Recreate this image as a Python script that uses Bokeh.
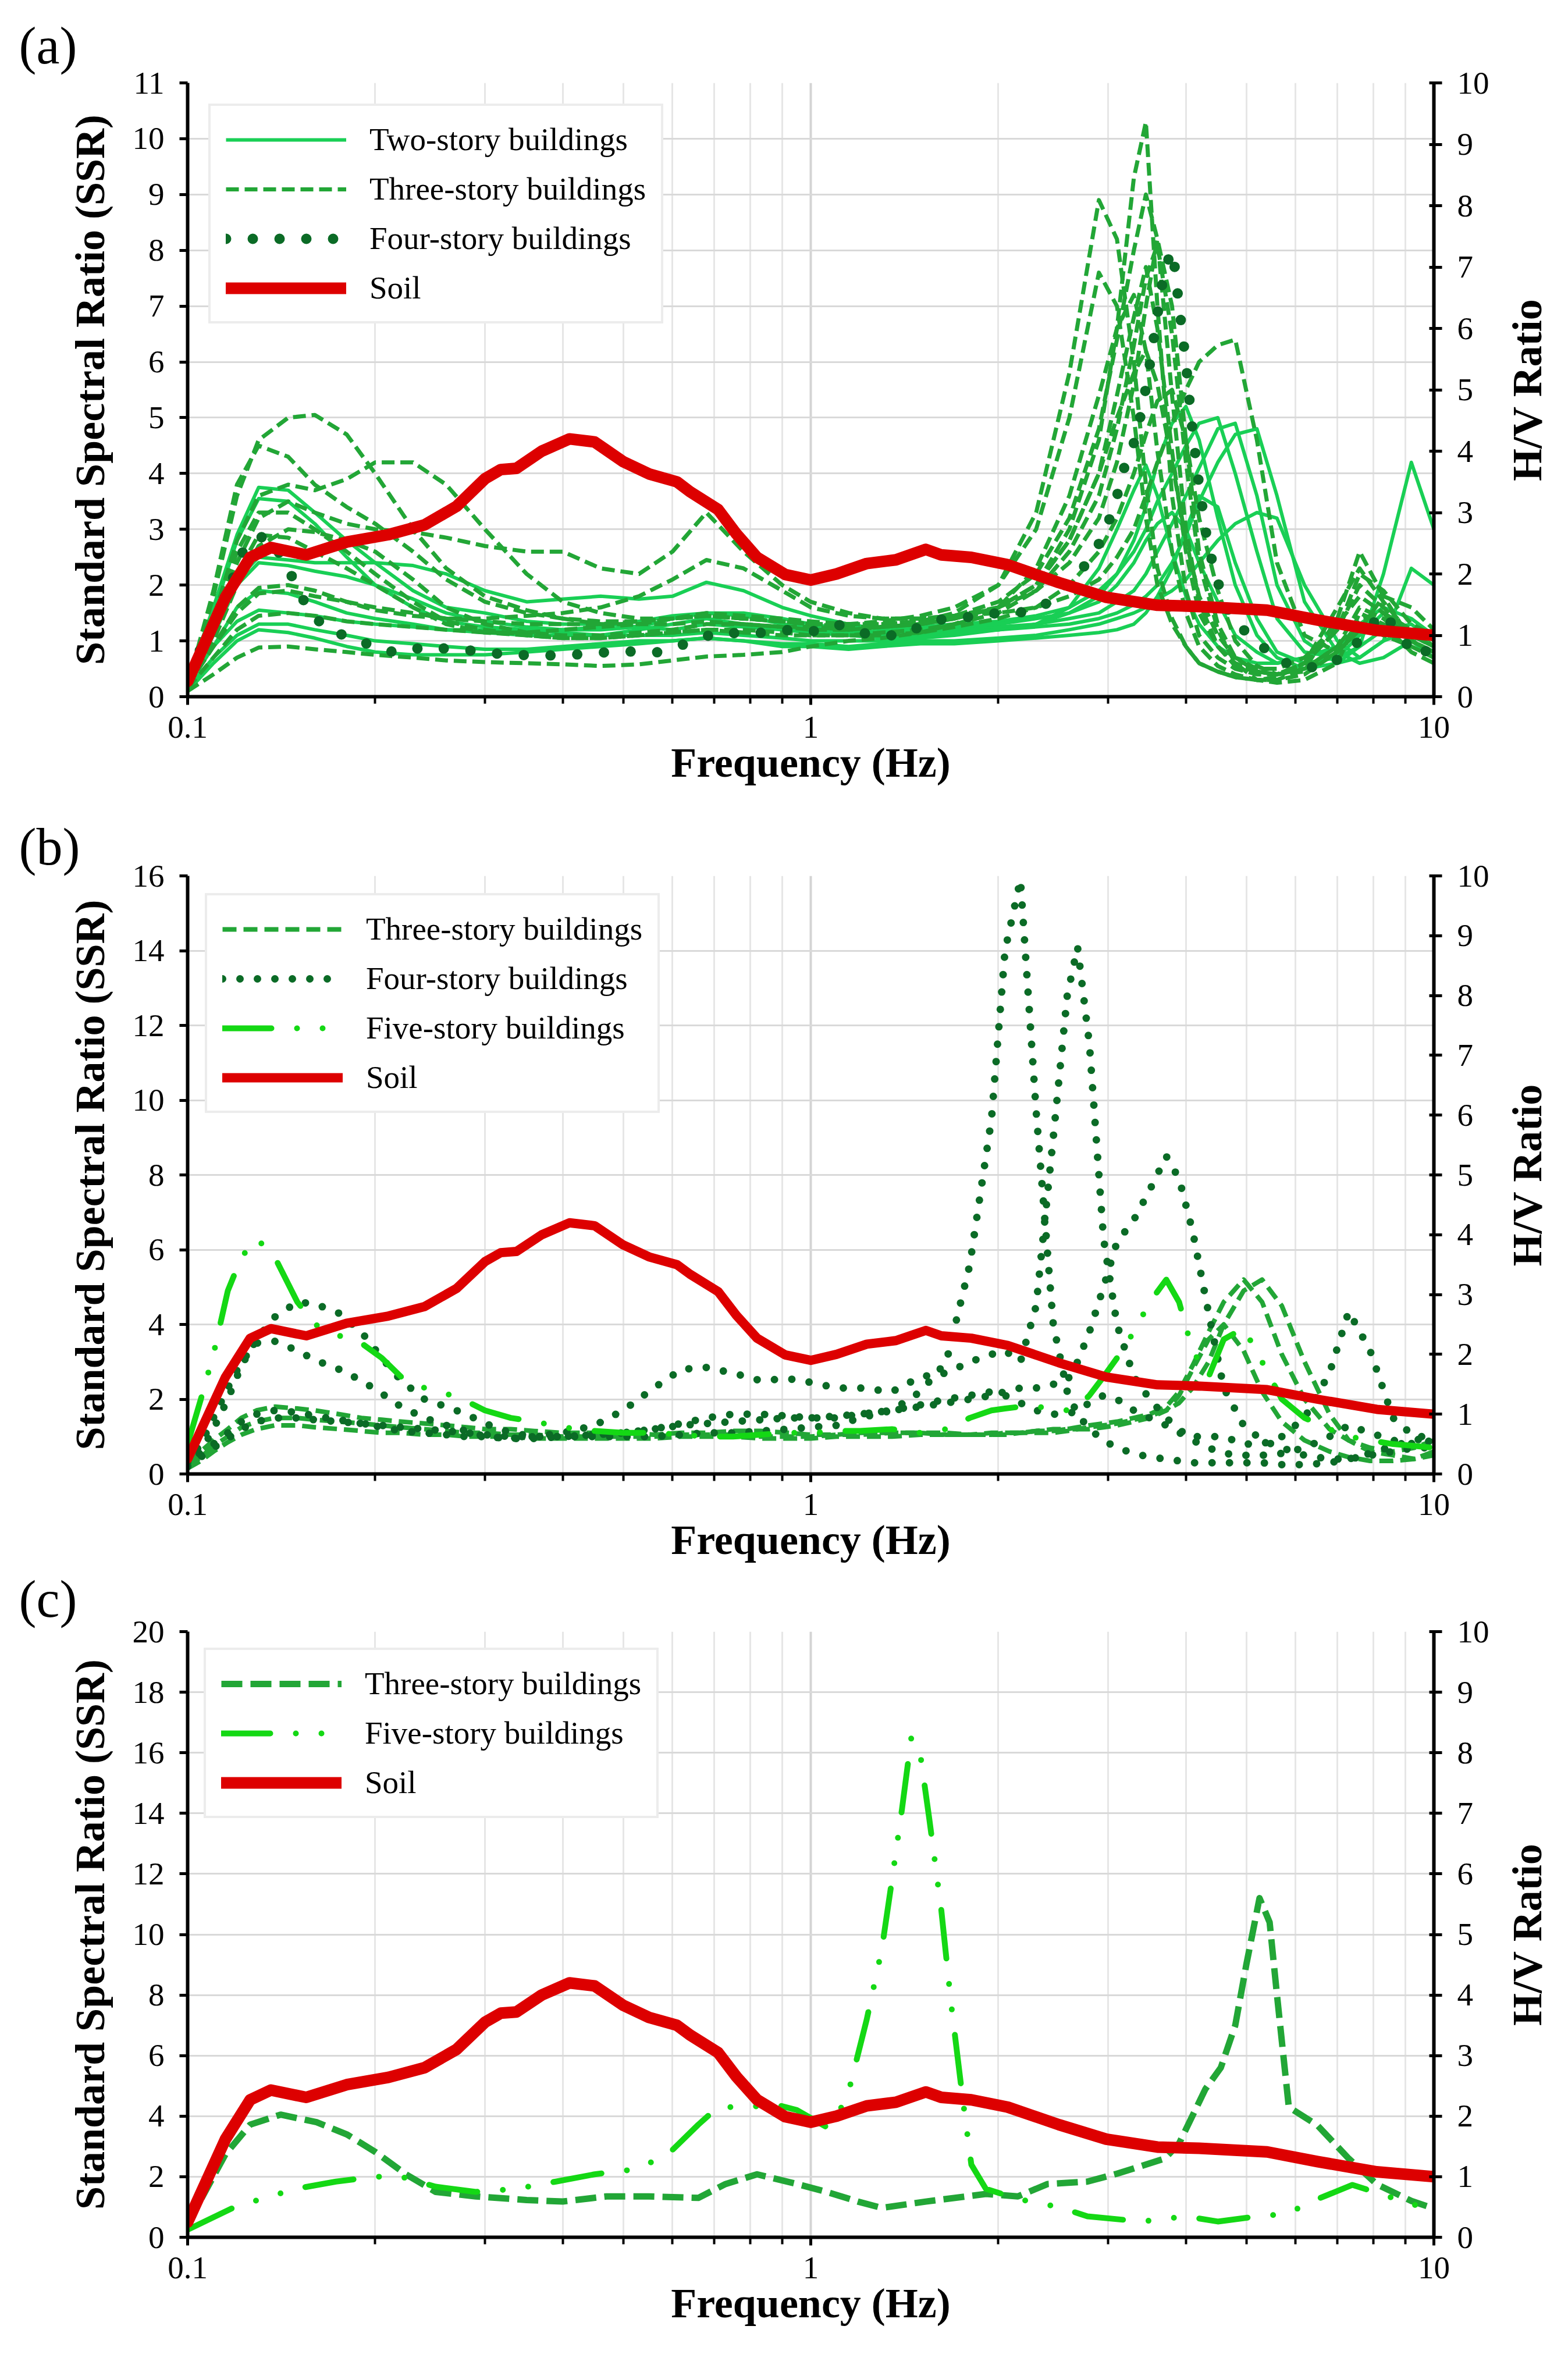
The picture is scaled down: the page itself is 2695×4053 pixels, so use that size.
import bokeh.layouts
import bokeh.models
import bokeh.plotting
from bokeh.embed import file_html
from bokeh.resources import INLINE

FONT = "Liberation Serif"

X_TICKS = [0.1, 1, 10]
X_MINOR = [0.2, 0.3, 0.4, 0.5, 0.6, 0.7, 0.8, 0.9, 2, 3, 4, 5, 6, 7, 8, 9]

# soil H/V ratio (right axis), same curve in the three panels
SOIL_FREQ = [0.10, 0.115, 0.126, 0.136, 0.155, 0.18, 0.21, 0.24, 0.27, 0.30,
             0.318, 0.337, 0.37, 0.41, 0.45, 0.50, 0.55, 0.61, 0.64, 0.71,
             0.76, 0.82, 0.91, 1.0, 1.1, 1.23, 1.37, 1.53, 1.62, 1.81,
             2.07, 2.5, 2.98, 3.6, 4.2, 5.4, 6.5, 8.1, 10.0]
SOIL_HV = [0.25, 1.62, 2.27, 2.43, 2.31, 2.52, 2.64, 2.8, 3.1, 3.55,
           3.7, 3.72, 4.0, 4.2, 4.15, 3.83, 3.63, 3.5, 3.34, 3.05,
           2.65, 2.27, 1.99, 1.9, 2.0, 2.17, 2.23, 2.4, 2.31, 2.27,
           2.15, 1.86, 1.62, 1.49, 1.47, 1.41, 1.25, 1.08, 1.0]

# ---- panel (a): SSR of two- and three-story buildings on one frequency list
A_FREQ = [0.10, 0.11, 0.12, 0.13, 0.145, 0.16, 0.18, 0.20, 0.23, 0.26,
          0.30, 0.35, 0.40, 0.46, 0.53, 0.60, 0.68, 0.78, 0.90, 1.0,
          1.15, 1.3, 1.5, 1.7, 2.0, 2.3, 2.6, 2.9, 3.1, 3.3,
          3.45, 3.6, 3.8, 4.0, 4.2, 4.5, 4.8, 5.2, 5.6, 6.2,
          7.0, 7.6, 8.3, 9.2, 10.0]

A_TWO_1 = [0.3, 1.6, 2.9, 3.75, 3.7, 3.3, 2.8, 2.4, 1.9, 1.6,
           1.5, 1.35, 1.3, 1.3, 1.25, 1.2, 1.3, 1.25, 1.2, 1.15,
           1.1, 1.05, 1.1, 1.15, 1.2, 1.3, 1.6, 2.3, 3.0, 3.7,
           4.15, 3.6, 2.6, 1.8, 1.3, 0.9, 0.7, 0.6, 0.6, 0.7,
           0.9, 1.1, 1.3, 1.2, 0.9]
A_TWO_2 = [0.3, 1.5, 2.8, 3.55, 3.5, 3.1, 2.5, 2.0, 1.6, 1.35,
           1.25, 1.2, 1.15, 1.1, 1.1, 1.1, 1.15, 1.1, 1.05, 1.0,
           1.0, 1.0, 1.05, 1.1, 1.2, 1.3, 1.5, 1.8, 2.2, 2.8,
           3.4, 4.2, 4.9, 5.2, 4.6, 3.2, 2.0, 1.1, 0.7, 0.5,
           0.6, 0.9, 1.2, 1.3, 1.0]
A_TWO_3 = [0.2, 1.2, 2.1, 2.5, 2.45, 2.4, 2.4, 2.4, 2.35, 2.2,
           1.9, 1.7, 1.75, 1.8, 1.75, 1.8, 2.05, 1.9, 1.6, 1.45,
           1.3, 1.2, 1.25, 1.3, 1.35, 1.45, 1.6, 1.9, 2.2, 2.6,
           3.0, 3.5, 4.0, 4.5, 4.9, 5.0, 4.0, 2.6, 1.4, 0.8,
           0.7, 0.9, 2.2, 4.2, 3.0]
A_TWO_4 = [0.2, 1.1, 2.0, 2.4, 2.35, 2.25, 2.15, 2.0, 1.75, 1.5,
           1.35, 1.25, 1.2, 1.2, 1.25, 1.4, 1.5, 1.45, 1.3, 1.25,
           1.2, 1.15, 1.15, 1.2, 1.25, 1.3, 1.4, 1.5, 1.7, 1.9,
           2.2, 2.6, 3.1, 3.6, 4.1, 4.8, 4.9, 3.6, 2.0, 1.0,
           0.6, 0.7, 1.0, 1.2, 0.9]
A_TWO_5 = [0.2, 0.9, 1.6, 1.9, 1.85, 1.7, 1.5, 1.4, 1.3, 1.2,
           1.15, 1.1, 1.1, 1.1, 1.2, 1.3, 1.4, 1.3, 1.25, 1.2,
           1.15, 1.1, 1.1, 1.15, 1.2, 1.25, 1.3, 1.4, 1.5, 1.65,
           1.8, 2.0, 2.4, 2.9, 3.5, 4.2, 4.7, 4.8, 3.6, 1.7,
           0.8, 0.6, 0.7, 1.0, 1.2]
A_TWO_6 = [0.15, 0.7, 1.1, 1.3, 1.3, 1.2, 1.1, 1.0, 0.95, 0.9,
           0.85, 0.85, 0.9, 0.95, 1.0, 1.0, 1.05, 1.0, 0.95, 0.95,
           0.9, 0.95, 1.0, 1.0, 1.05, 1.1, 1.2, 1.3, 1.4, 1.5,
           1.6, 1.75, 1.9, 2.1, 2.4, 2.8, 3.1, 3.3, 3.2, 2.0,
           1.0, 0.7, 1.0, 2.3, 2.0]
A_TWO_7 = [0.1, 0.6, 1.0, 1.2, 1.15, 1.05, 0.9, 0.8, 0.75, 0.75,
           0.75, 0.8, 0.85, 0.9, 0.95, 1.0, 1.05, 1.0, 0.9, 0.9,
           0.85, 0.9, 0.95, 0.95, 1.0, 1.05, 1.1, 1.15, 1.2, 1.3,
           1.5, 1.8, 2.3, 3.0, 3.6, 3.4, 2.4, 1.4, 0.8, 0.6,
           0.7, 1.1, 1.5, 1.0, 0.7]
A_TWO_8 = [0.2, 0.9, 1.35, 1.55, 1.5, 1.45, 1.35, 1.3, 1.25, 1.2,
           1.2, 1.2, 1.2, 1.25, 1.35, 1.45, 1.5, 1.5, 1.4, 1.3,
           1.2, 1.15, 1.2, 1.25, 1.3, 1.4, 1.5, 1.7, 2.0, 2.4,
           2.8, 3.1, 3.3, 3.0, 2.4, 1.7, 1.1, 0.8, 0.6, 0.7,
           0.9, 1.3, 1.6, 1.4, 1.1]

A_THREE_1 = [0.2, 1.8, 3.6, 4.6, 5.0, 5.05, 4.7, 4.0, 3.0, 2.3,
             1.8, 1.55, 1.4, 1.3, 1.3, 1.3, 1.35, 1.3, 1.25, 1.25,
             1.2, 1.25, 1.3, 1.4, 1.6, 2.0, 3.0, 4.6, 6.6, 9.3,
             10.3, 7.0, 3.6, 1.9, 1.1, 0.7, 0.5, 0.4, 0.4, 0.6,
             1.2, 2.2, 1.9, 1.3, 1.1]
A_THREE_2 = [0.2, 1.9, 3.8, 4.5, 4.3, 3.8, 3.4, 3.1, 2.6, 2.1,
             1.7, 1.5, 1.4, 1.35, 1.35, 1.4, 1.45, 1.4, 1.35, 1.3,
             1.3, 1.3, 1.35, 1.5, 2.0, 3.3, 5.8, 8.9, 8.2, 6.0,
             3.8, 2.3, 1.4, 0.9, 0.6, 0.45, 0.35, 0.3, 0.3, 0.5,
             1.4, 2.6, 1.8, 1.0, 0.8]
A_THREE_3 = [0.2, 1.4, 2.8, 3.6, 3.8, 3.7, 3.9, 4.2, 4.2, 3.8,
             3.0, 2.2, 1.7, 1.5, 1.4, 1.4, 1.5, 1.45, 1.4, 1.35,
             1.3, 1.3, 1.35, 1.45, 1.7, 2.2, 3.2, 4.8, 6.4, 8.0,
             9.0, 8.2, 5.4, 3.0, 1.7, 0.9, 0.55, 0.45, 0.4, 0.6,
             1.2, 2.0, 1.6, 1.1, 0.9]
A_THREE_4 = [0.2, 1.2, 2.4, 3.2, 3.5, 3.3, 3.1, 3.0, 2.95, 2.85,
             2.7, 2.6, 2.6, 2.3, 2.2, 2.6, 3.3, 2.6, 2.0, 1.7,
             1.5, 1.4, 1.4, 1.45, 1.6, 2.0, 2.8, 4.0, 5.0, 5.8,
             6.2, 5.6, 4.2, 2.8, 1.8, 1.1, 0.7, 0.5, 0.5, 0.7,
             1.3, 1.8, 1.5, 1.0, 0.8]
A_THREE_5 = [0.2, 1.0, 2.0, 2.7, 3.0, 2.95, 2.8, 2.6, 2.1, 1.6,
             1.3, 1.15, 1.1, 1.1, 1.15, 1.2, 1.3, 1.3, 1.25, 1.2,
             1.2, 1.25, 1.3, 1.4, 1.6, 1.9, 2.4, 3.2, 4.2, 5.6,
             7.0, 8.2, 7.0, 4.6, 2.6, 1.3, 0.7, 0.45, 0.4, 0.5,
             0.9, 1.4, 1.5, 1.2, 0.9]
A_THREE_6 = [0.2, 0.9, 1.6, 1.95, 2.0, 1.9, 1.7, 1.55, 1.45, 1.4,
             1.4, 1.45, 1.5, 1.6, 1.8, 2.1, 2.45, 2.3, 1.9, 1.6,
             1.45, 1.4, 1.4, 1.45, 1.5, 1.6, 1.8, 2.1, 2.5, 3.0,
             3.6, 4.2, 4.9, 5.5, 6.0, 6.3, 6.4, 4.6, 2.4, 1.1,
             0.8, 1.2, 1.8, 1.6, 1.2]
A_THREE_7 = [0.15, 0.7, 1.2, 1.45, 1.5, 1.45, 1.35, 1.3, 1.25, 1.2,
             1.15, 1.15, 1.2, 1.25, 1.3, 1.4, 1.45, 1.4, 1.35, 1.3,
             1.25, 1.25, 1.3, 1.4, 1.6, 2.0, 2.8, 4.0, 5.4, 6.8,
             7.7, 6.6, 4.4, 2.6, 1.5, 0.9, 0.6, 0.45, 0.4, 0.5,
             0.9, 1.6, 1.4, 1.0, 0.8]
A_THREE_8 = [0.1, 0.4, 0.7, 0.88, 0.9, 0.85, 0.8, 0.75, 0.7, 0.65,
             0.62, 0.6, 0.58, 0.55, 0.58, 0.65, 0.72, 0.75, 0.8, 0.9,
             1.0, 1.05, 1.15, 1.3, 1.5, 1.9, 2.6, 3.6, 4.8, 6.3,
             7.5, 8.1, 6.5, 4.2, 2.4, 1.2, 0.6, 0.3, 0.25, 0.3,
             0.6, 1.5, 1.3, 0.8, 0.6]
A_THREE_9 = [0.2, 1.3, 2.6, 3.3, 3.3, 3.0, 2.6, 2.2, 1.7, 1.35,
             1.2, 1.1, 1.05, 1.05, 1.1, 1.15, 1.2, 1.2, 1.15, 1.1,
             1.1, 1.15, 1.2, 1.3, 1.6, 2.3, 3.6, 5.4, 6.6, 7.2,
             6.2, 4.4, 2.6, 1.5, 0.9, 0.55, 0.4, 0.3, 0.3, 0.4,
             0.8, 1.3, 1.1, 0.9, 0.7]
A_THREE_10 = [0.2, 0.9, 1.5, 1.85, 1.9, 1.8, 1.7, 1.6, 1.5, 1.4,
              1.35, 1.3, 1.3, 1.3, 1.35, 1.4, 1.45, 1.4, 1.35, 1.3,
              1.3, 1.35, 1.45, 1.6, 2.0, 3.0, 5.0, 7.6, 7.0, 5.0,
              3.2, 2.0, 1.3, 0.9, 0.6, 0.45, 0.35, 0.3, 0.35, 0.6,
              1.6, 2.3, 1.7, 1.1, 0.9]
A_THREE_11 = [0.2, 1.1, 2.2, 2.9, 2.85, 2.6, 2.3, 2.0, 1.6, 1.3,
              1.15, 1.1, 1.05, 1.05, 1.1, 1.15, 1.2, 1.15, 1.1, 1.1,
              1.1, 1.1, 1.15, 1.25, 1.4, 1.6, 2.0, 2.6, 3.2, 4.0,
              4.7, 5.3, 5.5, 4.6, 3.2, 1.9, 1.0, 0.55, 0.4, 0.45,
              0.8, 1.2, 1.3, 1.0, 0.8]

A_FOUR_FREQ = [0.10, 0.11, 0.115, 0.12, 0.124, 0.13, 0.135, 0.143, 0.15, 0.157,
               0.17, 0.187, 0.2, 0.22, 0.24, 0.26, 0.29, 0.32, 0.36, 0.4,
               0.45, 0.5, 0.56, 0.64, 0.71, 0.8, 0.9, 1.0, 1.1, 1.25,
               1.4, 1.57, 1.75, 1.93, 2.15, 2.35, 2.53, 2.74, 2.9, 3.02,
               3.12, 3.2, 3.33, 3.47, 3.58, 3.7, 3.81, 3.9, 4.0, 4.08,
               4.18, 4.31, 4.45, 4.71, 5.05, 5.49, 5.95, 6.63, 7.25, 8.28,
               9.36, 10.0]
A_FOUR_1 = [0.4, 1.3, 1.8, 2.3, 2.75, 2.85, 2.88, 2.42, 1.96, 1.5,
            1.16, 1.05, 0.86, 0.78, 0.9, 0.86, 0.82, 0.76, 0.74, 0.74,
            0.78, 0.82, 0.78, 0.97, 1.16, 1.12, 1.2, 1.16, 1.3, 1.1,
            1.1, 1.37, 1.41, 1.49, 1.5, 1.6, 1.94, 2.32, 2.74, 3.2,
            3.7, 4.2, 4.65, 5.68, 6.67, 7.7, 8.0, 7.0, 5.98, 4.97,
            3.96, 2.93, 2.2, 1.45, 1.1, 0.76, 0.53, 0.53, 0.75, 1.52,
            0.72, 0.9]

# ---- panel (b): three-, four- and five-story buildings
B_FREQ = [0.10, 0.105, 0.11, 0.116, 0.122, 0.129, 0.138, 0.15, 0.16, 0.175,
          0.19, 0.205, 0.22, 0.24, 0.26, 0.28, 0.30, 0.33, 0.36, 0.40,
          0.45, 0.50, 0.56, 0.62, 0.68, 0.75, 0.83, 0.92, 1.0, 1.1,
          1.2, 1.35, 1.5, 1.65, 1.8, 1.95, 2.05, 2.17, 2.3, 2.45,
          2.58, 2.68, 2.8, 2.95, 3.1, 3.3, 3.5, 3.72, 3.9, 4.1,
          4.35, 4.6, 4.95, 5.3, 5.7, 6.2, 6.8, 7.3, 7.9, 8.6,
          9.3, 10.0]

B_THREE_1 = [0.3, 0.6, 0.9, 1.2, 1.5, 1.7, 1.8, 1.75, 1.7, 1.6,
             1.5, 1.45, 1.4, 1.35, 1.3, 1.25, 1.2, 1.2, 1.15, 1.1,
             1.1, 1.1, 1.05, 1.1, 1.1, 1.15, 1.15, 1.1, 1.05, 1.05,
             1.1, 1.1, 1.1, 1.05, 1.05, 1.1, 1.1, 1.1, 1.15, 1.2,
             1.2, 1.25, 1.3, 1.35, 1.4, 1.5, 1.6, 1.8, 2.2, 2.9,
             3.8, 4.6, 5.2, 4.6, 3.2, 2.0, 1.2, 0.9, 0.7, 0.6,
             0.7, 0.9]
B_THREE_2 = [0.2, 0.45, 0.75, 1.0, 1.25, 1.4, 1.5, 1.5, 1.45, 1.4,
             1.35, 1.3, 1.25, 1.2, 1.15, 1.1, 1.1, 1.05, 1.05, 1.0,
             1.0, 1.0, 1.0, 1.05, 1.05, 1.05, 1.0, 1.0, 1.0, 1.05,
             1.05, 1.1, 1.1, 1.1, 1.05, 1.05, 1.1, 1.1, 1.15, 1.15,
             1.2, 1.2, 1.25, 1.3, 1.35, 1.45, 1.55, 1.7, 1.9, 2.3,
             3.0, 4.0, 4.9, 5.2, 4.5, 3.0, 1.6, 0.9, 0.6, 0.5,
             0.4, 0.5]
B_THREE_3 = [0.15, 0.35, 0.6, 0.85, 1.05, 1.2, 1.3, 1.3, 1.25, 1.2,
             1.15, 1.1, 1.1, 1.05, 1.05, 1.0, 1.0, 1.0, 0.95, 0.95,
             0.95, 0.95, 0.95, 1.0, 1.0, 1.0, 0.95, 0.95, 0.95, 1.0,
             1.0, 1.0, 1.05, 1.05, 1.05, 1.05, 1.05, 1.1, 1.1, 1.1,
             1.15, 1.2, 1.2, 1.25, 1.3, 1.4, 1.5, 1.7, 2.1, 2.8,
             3.6, 4.0, 3.3, 2.2, 1.4, 0.9, 0.6, 0.45, 0.35, 0.35,
             0.4, 0.6]

B_FOUR_1 = [0.2, 0.6, 1.2, 2.0, 2.9, 3.6, 4.2, 4.6, 4.55, 4.3,
            3.8, 3.1, 2.5, 2.0, 1.8, 1.6, 1.35, 1.1, 1.0, 1.0,
            1.0, 1.0, 1.0, 1.05, 1.1, 1.1, 1.15, 1.2, 1.25, 1.3,
            1.5, 1.7, 2.2, 3.0, 5.6, 9.5, 14.0, 15.9, 9.7, 4.0,
            2.2, 1.6, 1.2, 0.9, 0.7, 0.55, 0.45, 0.4, 0.35, 0.3,
            0.3, 0.3, 0.3, 0.3, 0.25, 0.25, 0.3, 0.4, 0.55, 0.75,
            0.9, 1.0]
B_FOUR_2 = [0.3, 0.8, 1.5, 2.3, 3.0, 3.5, 3.55, 3.3, 3.05, 2.8,
            2.5, 2.15, 1.8, 1.5, 1.3, 1.15, 1.0, 0.95, 1.0, 1.1,
            1.3, 1.7, 2.3, 2.8, 2.85, 2.7, 2.5, 2.55, 2.45, 2.3,
            2.3, 2.2, 2.6, 2.7, 3.0, 3.2, 3.3, 3.0, 4.5, 9.0,
            12.8, 14.1, 11.5, 6.3, 4.0, 2.6, 2.0, 1.5, 1.2, 0.9,
            0.7, 0.55, 0.5, 0.5, 0.55, 0.7, 1.0, 1.3, 1.1, 0.9,
            0.8, 0.9]
B_FOUR_3 = [0.2, 0.5, 0.8, 1.1, 1.4, 1.6, 1.7, 1.65, 1.55, 1.45,
            1.35, 1.25, 1.15, 1.1, 1.05, 1.0, 1.0, 0.95, 0.95, 1.0,
            1.05, 1.1, 1.2, 1.3, 1.35, 1.4, 1.45, 1.5, 1.5, 1.55,
            1.6, 1.7, 1.8, 1.9, 2.0, 2.1, 2.2, 2.3, 2.3, 2.4,
            2.5, 3.0, 3.8, 5.0, 6.2, 6.8, 7.6, 8.5, 7.9, 6.5,
            4.3, 2.3, 1.3, 0.9, 0.7, 0.5, 0.4, 0.4, 0.5, 0.6,
            0.7, 0.7]
B_FOUR_4 = [0.2, 0.45, 0.7, 0.95, 1.2, 1.4, 1.5, 1.5, 1.45, 1.4,
            1.35, 1.3, 1.25, 1.2, 1.15, 1.1, 1.05, 1.0, 1.0, 1.0,
            1.05, 1.1, 1.2, 1.35, 1.5, 1.6, 1.6, 1.55, 1.5, 1.5,
            1.6, 1.7, 1.85, 2.0, 2.1, 2.2, 2.1, 1.9, 1.7, 1.6,
            1.6, 1.7, 1.9, 2.1, 2.0, 1.7, 1.5, 1.3, 1.1, 1.0,
            1.0, 1.0, 0.8, 0.8, 1.0, 1.5, 2.7, 4.35, 3.3, 1.5,
            1.0, 1.0]

B_FIVE_1 = [0.8, 2.0, 3.2, 4.9, 5.8, 6.3, 5.8, 4.6, 4.0, 3.7,
            3.5, 3.1, 2.6, 2.3, 2.15, 1.95, 1.7, 1.5, 1.4, 1.25,
            1.15, 1.1, 1.1, 1.05, 1.0, 1.0, 1.05, 1.1, 1.1, 1.15,
            1.15, 1.2, 1.1, 1.2, 1.5, 1.7, 1.75, 1.8, 1.8, 1.75,
            1.7, 1.8, 2.1, 2.6, 3.1, 3.8, 4.6, 5.2, 4.6, 3.3,
            2.6, 3.6, 3.9, 3.0, 2.0, 1.5, 1.2, 1.0, 0.9, 0.8,
            0.75, 0.7]

# ---- panel (c): three- and five-story buildings
C_THREE_FREQ = [0.1, 0.115, 0.126, 0.141, 0.161, 0.18, 0.2, 0.224, 0.25, 0.29,
                0.35, 0.4, 0.47, 0.55, 0.66, 0.73, 0.82, 0.95, 1.06, 1.19,
                1.3, 1.53, 1.91, 2.15, 2.4, 2.78, 3.1, 3.45, 3.7, 3.9,
                4.3, 4.55, 4.8, 5.0, 5.25, 5.45, 5.6, 5.85, 6.5, 7.3,
                8.1, 9.2, 10.0]
C_THREE_1 = [0.44, 2.74, 3.72, 4.05, 3.8, 3.4, 2.82, 2.08, 1.5, 1.35,
             1.23, 1.18, 1.35, 1.35, 1.3, 1.76, 2.08, 1.76, 1.5, 1.18,
             0.97, 1.18, 1.43, 1.35, 1.76, 1.84, 2.1, 2.4, 2.6, 3.1,
             4.9, 5.6, 7.0, 9.0, 11.2, 10.4, 8.0, 4.3, 3.7, 2.6,
             1.75, 1.2, 0.95]

C_FIVE_FREQ = [0.1, 0.119, 0.149, 0.173, 0.2, 0.22, 0.25, 0.29, 0.337, 0.39,
               0.45, 0.525, 0.59, 0.66, 0.71, 0.79, 0.88, 0.95, 1.06, 1.14,
               1.23, 1.3, 1.35, 1.4, 1.45, 1.5, 1.55, 1.62, 1.68, 1.75,
               1.81, 1.91, 2.15, 2.5, 2.78, 3.4, 4.0, 4.5, 5.2, 5.8,
               6.5, 7.4, 8.3, 9.2, 10.0]
C_FIVE_1 = [0.25, 1.0, 1.6, 1.84, 2.0, 2.0, 1.67, 1.5, 1.6, 1.84,
            2.08, 2.25, 2.74, 3.72, 4.3, 4.3, 4.38, 4.2, 3.64, 4.5,
            7.2, 9.5, 11.8, 14.1, 16.5, 15.9, 13.8, 10.8, 7.7, 4.7,
            2.4, 1.6, 1.26, 1.0, 0.69, 0.52, 0.69, 0.52, 0.69, 0.77,
            1.26, 1.73, 1.4, 1.1, 0.9]

TWO_COLOR = "#19cf55"
THREE_COLOR = "#22a636"
FOUR_COLOR = "#0b6b26"
FIVE_COLOR = "#14d814"
SOIL_COLOR = "#dd0000"

MAIN_WIDTH = 2572
SIDE_WIDTH = 107


def base_figure(tag, tag_standoff, ssr_max, ssr_step, height, border_top, border_bottom):
    p = bokeh.plotting.figure(
        width=MAIN_WIDTH,
        height=height,
        x_axis_type="log",
        x_range=(0.1, 10),
        y_range=(0, ssr_max),
        output_backend="svg",
        toolbar_location=None,
        min_border_left=322,
        min_border_right=108,
        min_border_top=border_top,
        min_border_bottom=border_bottom,
        title=tag,
    )
    p.outline_line_color = None
    p.extra_y_ranges = {"hv": bokeh.models.Range1d(0, 10)}

    # panel tag "(a)" etc. drawn as a left-aligned title pulled to the page edge
    p.title.text_font = FONT
    p.title.text_font_size = "90px"
    p.title.text_font_style = "normal"
    p.title.text_color = "black"
    p.title.align = "left"
    p.title.offset = -290
    p.title.standoff = tag_standoff

    x_ticker = bokeh.models.FixedTicker(ticks=X_TICKS, minor_ticks=X_MINOR)
    p.xaxis.ticker = x_ticker
    p.xgrid.ticker = x_ticker
    p.xaxis.formatter = bokeh.models.CustomJSTickFormatter(code="return String(tick)")
    p.xaxis.axis_label = "Frequency (Hz)"
    p.xaxis.axis_label_standoff = 0
    p.xaxis.major_label_standoff = 20

    y_ticker = bokeh.models.SingleIntervalTicker(interval=ssr_step, num_minor_ticks=0)
    p.yaxis.ticker = y_ticker
    p.ygrid.ticker = y_ticker
    p.yaxis.axis_label = "Standard Spectral Ratio (SSR)"
    p.yaxis.axis_label_standoff = 30
    p.yaxis.major_label_standoff = 26

    right = bokeh.models.LinearAxis(
        y_range_name="hv",
        ticker=bokeh.models.SingleIntervalTicker(interval=1, num_minor_ticks=0),
        major_label_standoff=26,
    )
    p.add_layout(right, "right")

    for ax in p.axis:
        ax.axis_line_color = "black"
        ax.axis_line_width = 6
        ax.major_tick_line_color = "black"
        ax.major_tick_line_width = 5
        ax.major_tick_out = 14
        ax.major_tick_in = 0
        ax.minor_tick_line_color = "black"
        ax.minor_tick_line_width = 4
        ax.minor_tick_out = 12
        ax.minor_tick_in = 0
        ax.major_label_text_font = FONT
        ax.major_label_text_font_size = "55px"
        ax.major_label_text_color = "black"
        ax.axis_label_text_font = FONT
        ax.axis_label_text_font_size = "72px"
        ax.axis_label_text_font_style = "bold"
        ax.axis_label_text_color = "black"
    right.major_tick_in = 8

    p.ygrid.grid_line_color = "#d9d9d9"
    p.ygrid.grid_line_width = 3
    p.xgrid.grid_line_color = "#d4d4d4"
    p.xgrid.grid_line_width = 4
    p.xgrid.minor_grid_line_color = "#e6e6e6"
    p.xgrid.minor_grid_line_width = 3
    return p


def side_title(height, border_top, border_bottom):
    # narrow strip right of each panel carrying the "H/V Ratio" title (reads bottom-to-top)
    p = bokeh.plotting.figure(
        width=SIDE_WIDTH,
        height=height,
        output_backend="svg",
        toolbar_location=None,
        x_axis_location=None,
        y_axis_location=None,
        min_border_left=95,
        min_border_right=0,
        min_border_top=border_top,
        min_border_bottom=border_bottom,
        title="H/V Ratio",
        title_location="left",
    )
    p.grid.visible = False
    p.outline_line_color = None
    p.title.text_font = FONT
    p.title.text_font_size = "72px"
    p.title.text_font_style = "bold"
    p.title.text_color = "black"
    p.title.align = "center"
    p.title.standoff = 5
    return p


def add_group(p, series, **style):
    first = None
    for freq, values in series:
        r = p.line(freq, values, line_join="round", **style)
        if first is None:
            first = r
    return first


def add_soil(p, width):
    return p.line(SOIL_FREQ, SOIL_HV, y_range_name="hv", line_color=SOIL_COLOR,
                  line_width=width, line_join="round", line_cap="round")


def add_legend(p, items, margin):
    legend = bokeh.models.Legend(
        items=[bokeh.models.LegendItem(label=label, renderers=[r]) for label, r in items],
        location="top_left",
        margin=margin,
        padding=26,
        spacing=22,
        glyph_width=207,
        glyph_height=58,
        label_height=58,
        label_standoff=40,
        label_text_font=FONT,
        label_text_font_size="55px",
        label_text_color="black",
        border_line_color="#d9d9d9",
        border_line_width=4,
        background_fill_alpha=1,
    )
    p.add_layout(legend)


# ---- (a)
pa = base_figure("(a)", 30, 11, 1, 1402, 142, 205)
r_two = add_group(pa, [(A_FREQ, v) for v in [A_TWO_1, A_TWO_2, A_TWO_3, A_TWO_4,
                                             A_TWO_5, A_TWO_6, A_TWO_7, A_TWO_8]],
                  line_color=TWO_COLOR, line_width=6)
r_three = add_group(pa, [(A_FREQ, v) for v in [A_THREE_1, A_THREE_2, A_THREE_3, A_THREE_4,
                                               A_THREE_5, A_THREE_6, A_THREE_7, A_THREE_8,
                                               A_THREE_9, A_THREE_10, A_THREE_11]],
                    line_color=THREE_COLOR, line_width=7, line_dash="22 10")
r_four = add_group(pa, [(A_FOUR_FREQ, A_FOUR_1)], line_color=FOUR_COLOR, line_width=18,
                   line_dash="0 46", line_cap="round")
r_soil = add_soil(pa, 20)
add_legend(pa, [("Two-story buildings", r_two), ("Three-story buildings", r_three),
                ("Four-story buildings", r_four), ("Soil", r_soil)], 36)
ha = side_title(1402, 142, 205)

# ---- (b)
pb = base_figure("(b)", 2, 16, 2, 1287, 96, 139)
r_three = add_group(pb, [(B_FREQ, v) for v in [B_THREE_1, B_THREE_2, B_THREE_3]],
                    line_color=THREE_COLOR, line_width=8, line_dash="24 12")
r_four = add_group(pb, [(B_FREQ, v) for v in [B_FOUR_1, B_FOUR_2, B_FOUR_3, B_FOUR_4]],
                   line_color=FOUR_COLOR, line_width=13, line_dash="0 30", line_cap="round")
r_five = add_group(pb, [(B_FREQ, B_FIVE_1)], line_color=FIVE_COLOR, line_width=10,
                   line_dash="84 44 0 44 0 44", line_cap="round")
r_soil = add_soil(pb, 16)
add_legend(pb, [("Three-story buildings", r_three), ("Four-story buildings", r_four),
                ("Five-story buildings", r_five), ("Soil", r_soil)], 30)
hb = side_title(1287, 96, 139)

# ---- (c)
pc = base_figure("(c)", 14, 20, 2, 1343, 105, 187)
r_three = add_group(pc, [(C_THREE_FREQ, C_THREE_1)], line_color=THREE_COLOR,
                    line_width=11, line_dash="36 14")
r_five = add_group(pc, [(C_FIVE_FREQ, C_FIVE_1)], line_color=FIVE_COLOR, line_width=10,
                   line_dash="84 44 0 44 0 44", line_cap="round")
r_soil = add_soil(pc, 20)
add_legend(pc, [("Three-story buildings", r_three), ("Five-story buildings", r_five),
                ("Soil", r_soil)], 28)
hc = side_title(1343, 105, 187)

fig = bokeh.layouts.column(
    bokeh.layouts.row(pa, ha),
    bokeh.layouts.row(pb, hb),
    bokeh.layouts.row(pc, hc),
)
open("out.html", "w").write(file_html(fig, INLINE))
